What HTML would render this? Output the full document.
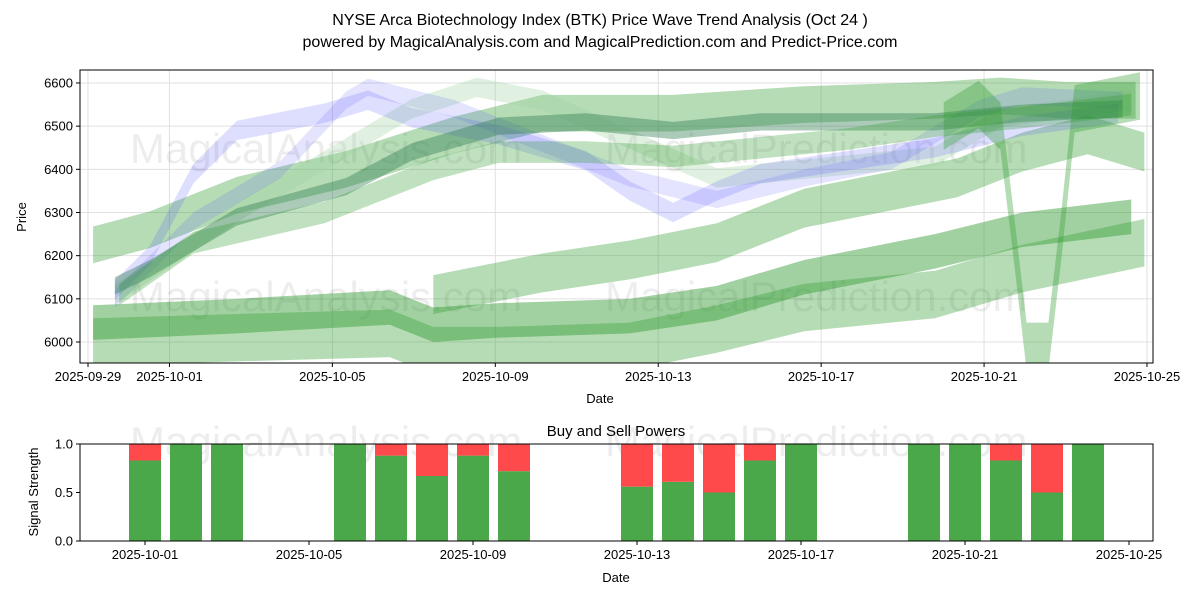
<!DOCTYPE html>
<html><head><meta charset="utf-8"><style>
body{margin:0;background:#fff;}
svg{display:block;font-family:"Liberation Sans","DejaVu Sans",sans-serif;}
</style></head><body>
<svg id="chart" width="1200" height="600" viewBox="0 0 1200 600" xmlns="http://www.w3.org/2000/svg">
<text x="600" y="25" text-anchor="middle" font-size="16">NYSE Arca Biotechnology Index (BTK) Price Wave Trend Analysis (Oct 24 )</text>
<text x="600" y="47" text-anchor="middle" font-size="16">powered by MagicalAnalysis.com and MagicalPrediction.com and Predict-Price.com</text>
<g id="topPanel"></g>
<g id="botPanel"></g>
</svg>
<script>
// ---- price panel data ----
const priceTicks=[6000,6100,6200,6300,6400,6500,6600];
const dateTicks=["2025-09-29","2025-10-01","2025-10-05","2025-10-09","2025-10-13","2025-10-17","2025-10-21","2025-10-25"];
const dateTickDays=[0,2,6,10,14,18,22,26];
const bandG1Days=[0.7,2,4,6.5,9,11,14,17,20,21.5,23,24.6];
const bandG1Vals=[6225,6260,6340,6400,6480,6530,6530,6550,6560,6570,6560,6560];
const bandG2Days=[1.2,2,4,6.5,8,10,12,14,16,18,20,22,24.3];
const bandG2Vals=[6130,6170,6290,6360,6440,6500,6510,6490,6510,6510,6510,6530,6540];
const bandG3Days=[1.3,3,6,8.5,10,12,14,16,18,20,22,24.5];
const bandG3Vals=[6110,6230,6300,6400,6440,6440,6430,6450,6470,6500,6520,6550];
const bandB4Days=[1.2,2,3,4,6,7,8,10,12,13,14,15,16,18,20,22,24.2];
const bandB4Vals=[6120,6200,6390,6490,6530,6560,6520,6480,6420,6350,6300,6350,6390,6420,6450,6500,6530];
const bandB5Days=[1.2,3,5,6.5,7,9,11,13,15,17,19,21,22,24.3];
const bandB5Vals=[6100,6280,6400,6560,6590,6540,6460,6380,6330,6380,6420,6540,6570,6560];
const bandW6Days=[1.2,4,6,8,9.5,11,13,15,17,20,21.5,24.5];
const bandW6Vals=[6110,6300,6420,6540,6590,6560,6470,6380,6400,6430,6520,6560];
const bandL1Days=[0.7,4,7.5,8.5,10,13,15,17,20,22,24.5];
const bandL1Vals=[6045,6060,6080,6040,6050,6060,6090,6150,6210,6260,6290];
const bandL2Days=[0.7,4,7.5,8.5,10,13,15,17,20,22,24.8];
const bandL2Vals=[6000,6010,6020,5980,5980,5990,6030,6080,6110,6170,6230];
const bandG4Days=[8.5,11,13,15,17,19,20.5,22,23.5,24.8];
const bandG4Vals=[6110,6160,6190,6230,6310,6350,6380,6440,6480,6440];
const bandSpDays=[20.2,21,21.5,21.8,22.1,22.6,22.9,23.2,24.7];
const bandSpVals=[6500,6550,6500,6250,5990,5990,6250,6540,6570];

// ---- signal panel data ----
const sigDays=[2,3,4,7,8,9,10,11,14,15,16,17,18,21,22,23,24,25];
const buyVals=[0.83,1,1,1,0.88,0.67,0.88,0.72,0.56,0.61,0.5,0.83,1,1,1,0.83,0.5,1];
const sigTicks=[0,0.5,1];
const sigDateTicks=["2025-10-01","2025-10-05","2025-10-09","2025-10-13","2025-10-17","2025-10-21","2025-10-25"];
const sigDateTickDays=[2,6,10,14,18,22,26];

const NS="http://www.w3.org/2000/svg";
function mk(tag,attrs,parent,txt){const e=document.createElementNS(NS,tag);for(const k in attrs)e.setAttribute(k,attrs[k]);if(txt!==undefined)e.textContent=txt;parent.appendChild(e);return e;}
const topG=document.getElementById('topPanel'),botG=document.getElementById('botPanel');
const TL=80,TR=1153,TT=70,TB=363;
const xT=d=>88+d*40.73, yT=v=>342-(v-6000)*0.4317;
const xBand=d=>xT(0.66+(d-1.2)*1.071);
const BL=80,BR=1153,BT=444,BB=541;
const xB=d=>63+d*41, yB=v=>541-v*97;

priceTicks.forEach(v=>{const l=mk('line',{x1:TL,x2:TR,y1:yT(v),y2:yT(v),stroke:'#e0e0e0','stroke-width':1},topG);

const t=mk('text',{x:TL-7,y:yT(v)+4.5,'text-anchor':'end','font-size':13},topG,String(v));

mk('line',{x1:TL-4,x2:TL,y1:yT(v),y2:yT(v),stroke:'#000'},topG);});
dateTicks.forEach((s,i)=>{const x=xT(dateTickDays[i]);const l=mk('line',{x1:x,x2:x,y1:TT,y2:TB,stroke:'#e0e0e0'},topG);

mk('line',{x1:x,x2:x,y1:TB,y2:TB+4,stroke:'#000'},topG);
const t=mk('text',{x:x,y:TB+18,'text-anchor':'middle','font-size':13},topG,s);
});
[[130,163,'MagicalAnalysis.com'],[605,163,'MagicalPrediction.com'],[130,311,'MagicalAnalysis.com'],[605,311,'MagicalPrediction.com']].forEach(w=>{
const t=mk('text',{x:w[0],y:w[1],'font-size':42,fill:'#000','fill-opacity':0.07},topG,w[2]);
});
function band(days,vals,th,fill,op,name){
const up=days.map((d,i)=>xBand(d)+','+yT(vals[i]+th/2));
const lo=days.map((d,i)=>xBand(d)+','+yT(vals[i]-th/2)).reverse();
const p=mk('polygon',{points:up.concat(lo).join(' '),fill:fill,'fill-opacity':op,'clip-path':'url(#cp)'},topG);
}
const clip=mk('clipPath',{id:'cp'},topG);mk('rect',{x:TL,y:TT,width:TR-TL,height:TB-TT},clip);
const G='#2e9a2e';
band(bandL2Days,bandL2Vals,110,G,0.35,'wave-band-lower-light');
band(bandL1Days,bandL1Vals,80,G,0.45,'wave-band-lower-dark');
band(bandG4Days,bandG4Vals,90,G,0.35,'wave-band-rising');
band(bandG1Days,bandG1Vals,85,G,0.35,'wave-band-wide');
band(bandW6Days,bandW6Vals,45,'#9ccf9c',0.3,'wave-band-pale');
band(bandB5Days,bandB5Vals,40,'#4a4aff',0.15,'wave-band-blue-2');
band(bandB4Days,bandB4Vals,45,'#4a4aff',0.18,'wave-band-blue-1');
band(bandG2Days,bandG2Vals,40,'#2e7a4e',0.4,'wave-band-core');
band(bandG3Days,bandG3Vals,50,G,0.3,'wave-band-mid');
band(bandSpDays,bandSpVals,110,G,0.35,'wave-band-spike');
mk('rect',{x:TL,y:TT,width:TR-TL,height:TB-TT,fill:'none',stroke:'#000','stroke-width':1},topG);
let t=mk('text',{x:600,y:403,'text-anchor':'middle','font-size':13},topG,'Date');
t=mk('text',{x:26,y:217,'text-anchor':'middle','font-size':13,transform:'rotate(-90 26 217)'},topG,'Price');

t=mk('text',{x:616,y:436,'text-anchor':'middle','font-size':15},botG,'Buy and Sell Powers');
[[130,456,'MagicalAnalysis.com'],[605,456,'MagicalPrediction.com']].forEach(w=>{
const e=mk('text',{x:w[0],y:w[1],'font-size':42,fill:'#000','fill-opacity':0.07},botG,w[2]);
});
sigTicks.forEach(v=>{mk('line',{x1:BL-4,x2:BL,y1:yB(v),y2:yB(v),stroke:'#000'},botG);
const e=mk('text',{x:BL-7,y:yB(v)+4.5,'text-anchor':'end','font-size':13},botG,v.toFixed(1));
});
sigDateTicks.forEach((s,i)=>{const x=xB(sigDateTickDays[i]);mk('line',{x1:x,x2:x,y1:BB,y2:BB+4,stroke:'#000'},botG);
const e=mk('text',{x:x,y:BB+18,'text-anchor':'middle','font-size':13},botG,s);
});
sigDays.forEach((d,i)=>{const x=xB(d)-16,b=buyVals[i];
const g=mk('rect',{x:x,y:yB(b),width:32,height:yB(0)-yB(b),fill:'#4aa84a'},botG);

const r=mk('rect',{x:x,y:yB(1),width:32,height:yB(b)-yB(1),fill:'#fe4a4a'},botG);
});
mk('rect',{x:BL,y:BT,width:BR-BL,height:BB-BT,fill:'none',stroke:'#000'},botG);
t=mk('text',{x:616,y:582,'text-anchor':'middle','font-size':13},botG,'Date');
t=mk('text',{x:38,y:492,'text-anchor':'middle','font-size':13,transform:'rotate(-90 38 492)'},botG,'Signal Strength');
</script>
</body></html>
